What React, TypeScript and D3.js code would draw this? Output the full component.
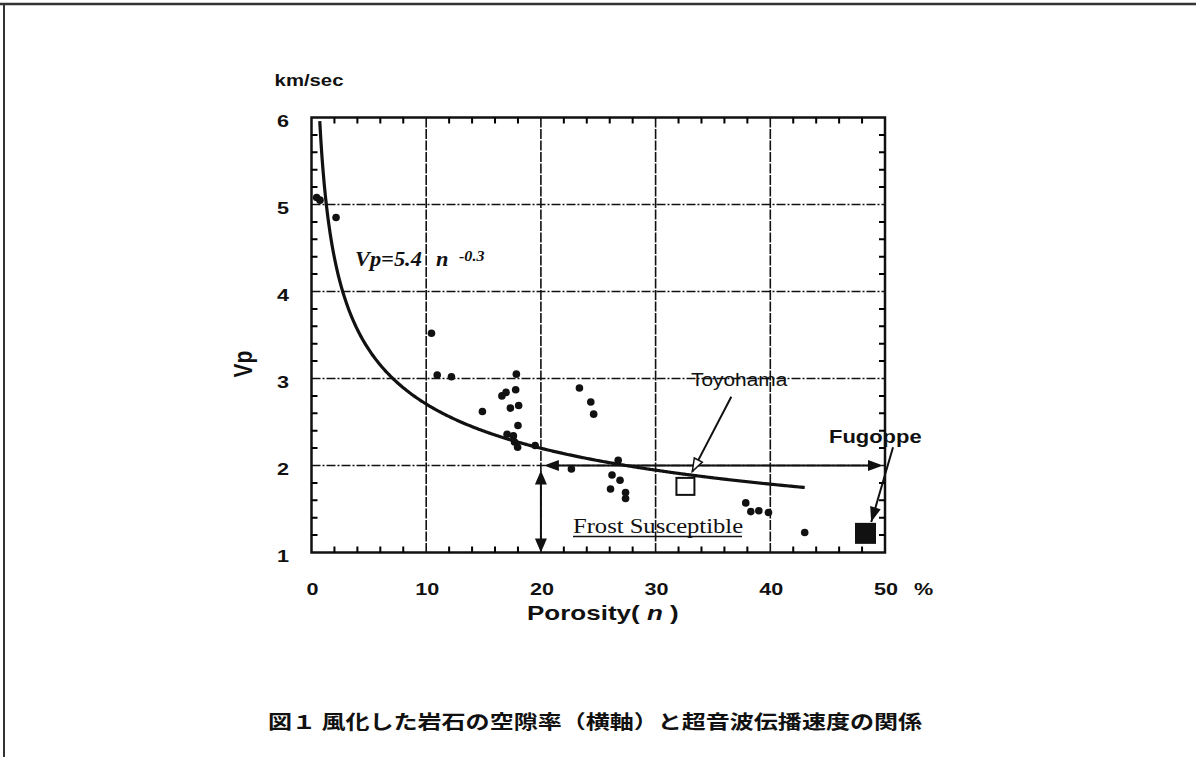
import React from "react";
import * as d3 from "d3";

const W = 1196;
const H = 757;

// Data: porosity (%) vs P-wave velocity (km/sec)
const porosity = [0.45, 0.74, 2.14, 10.46, 10.96, 12.2, 17.86, 16.6, 16.96, 17.8, 14.9, 17.34, 18.06, 18.0, 17.05, 17.6, 17.7, 17.97, 19.5, 23.36, 24.35, 24.6, 26.74, 22.66, 26.2, 26.9, 26.07, 27.38, 27.38, 37.86, 38.3, 39.0, 39.84, 43.0];
const vp = [5.08, 5.05, 4.85, 3.52, 3.04, 3.02, 3.05, 2.8, 2.84, 2.87, 2.62, 2.66, 2.69, 2.46, 2.36, 2.34, 2.27, 2.21, 2.23, 2.89, 2.73, 2.59, 2.06, 1.96, 1.89, 1.83, 1.73, 1.69, 1.62, 1.57, 1.47, 1.48, 1.46, 1.23];

// Fit printed on the chart: Vp = 5.4 n^-0.3
const fitA = 5.4;
const fitB = -0.3;
const fitRange = [0.72, 43];

const xTicks = [0, 10, 20, 30, 40, 50];
const yTicks = [1, 2, 3, 4, 5, 6];
const xGrid = [10, 20, 30, 40];
const yGrid = [2, 3, 4, 5];
const xMinorStep = 2;
const yMinorStep = 0.2;

// Named sites
const toyohama = { n: 32.6, vp: 1.76, label: "Toyohama" };
const fugoppe = { n: 48.3, vp: 1.22, label: "Fugoppe" };

const SANS = "'Liberation Sans', Arial, Helvetica, sans-serif";
const SERIF = "'Liberation Serif', 'Times New Roman', serif";
const CJK = "'Noto Sans CJK JP', 'Noto Sans CJK SC', sans-serif";
const SX = 1.27; // horizontal stretch of scanned text

function head(sx: number, sy: number, tx: number, ty: number, len: number, half: number) {
  const dx = tx - sx, dy = ty - sy;
  const L = Math.hypot(dx, dy);
  const ux = dx / L, uy = dy / L;
  const bx = tx - ux * len, by = ty - uy * len;
  return `${tx},${ty} ${bx - uy * half},${by + ux * half} ${bx + uy * half},${by - ux * half}`;
}

function T(props: any) {
  const { x, y, sx = SX, children, ...rest } = props;
  return (
    <text transform={`translate(${x},${y}) scale(${sx},1)`} {...rest}>
      {children}
    </text>
  );
}

export default function App() {
  const x = d3.scaleLinear().domain([0, 50]).range([311.5, 885]);
  const y = d3.scaleLinear().domain([1, 6]).range([552.5, 117.5]);

  const fitPts = d3.range(fitRange[0], fitRange[1] + 0.001, 0.1).concat([fitRange[1]]).map((n) => [n, fitA * Math.pow(n, fitB)] as [number, number]);
  const line = d3.line<[number, number]>().x((d) => x(d[0])).y((d) => y(d[1])).curve(d3.curveMonotoneX);

  const minorX: number[] = [];
  for (let i = 1; i < 25; i++) if (i % 5 !== 0) minorX.push(i * xMinorStep);
  const minorY: number[] = [];
  for (let i = 1; i < 25; i++) if (i % 5 !== 0) minorY.push(1 + i * yMinorStep);

  const x0 = x(0), x1 = x(50), y0 = y(1), y1 = y(6);
  const tick = 6;

  let tickPath = "";
  minorX.forEach((v) => {
    const px = x(v);
    tickPath += `M${px},${y0}V${y0 - tick}M${px},${y1}V${y1 + tick}`;
  });
  minorY.forEach((v) => {
    const py = y(v);
    tickPath += `M${x0},${py}H${x0 + tick}M${x1},${py}H${x1 - tick}`;
  });

  // arrows
  const hy = y(2);
  const hxL = x(20) + 3, hxR = x(50) - 2;
  const vx = x(20);
  const vyT = y(2) + 5, vyB = y(1);

  const tStart = [x(36.6), y(2.79)];
  const tEnd = [x(33.2), y(1.93)];
  const fStart = [x(50.7), y(2.21)];
  const fEnd = [x(48.8), y(1.35)];

  return (
    <div style={{ position: "absolute", left: 0, top: 0 }}>
      <svg width={W} height={H} style={{ display: "block", background: "#fff" }}>
        {/* page border */}
        <line x1={0} y1={4} x2={W} y2={4} stroke="#333" strokeWidth={2.5} />
        <line x1={4} y1={4} x2={4} y2={H} stroke="#333" strokeWidth={2} />

        {/* grid */}
        {xGrid.map((v) => (
          <line key={"gx" + v} x1={x(v)} x2={x(v)} y1={y1} y2={y0} stroke="#111" strokeWidth={1.6} strokeDasharray="10,1.5" />
        ))}
        {yGrid.map((v) => (
          <line key={"gy" + v} x1={x0} x2={x1} y1={y(v)} y2={y(v)} stroke="#111" strokeWidth={1.5} strokeDasharray="9,2,2,2" />
        ))}

        {/* frame */}
        <rect x={x0} y={y1} width={x1 - x0} height={y0 - y1} fill="none" stroke="#111" strokeWidth={2.5} />

        {/* minor ticks */}
        <path d={tickPath} fill="none" stroke="#000" strokeWidth={2} />

        {/* fit curve */}
        <path d={line(fitPts) || ""} fill="none" stroke="#111" strokeWidth={3.2} />

        {/* data points */}
        {porosity.map((n, i) => (
          <circle key={"p" + i} cx={x(n)} cy={y(vp[i])} r={3.8} fill="#111" />
        ))}

        {/* horizontal double arrow */}
        <line x1={hxL + 10} x2={hxR - 10} y1={hy} y2={hy} stroke="#111" strokeWidth={2} />
        <polygon points={head(hxR, hy, hxL, hy, 15, 5.5)} fill="#111" />
        <polygon points={head(hxL, hy, hxR, hy, 15, 5.5)} fill="#111" />

        {/* vertical double arrow */}
        <line x1={vx} x2={vx} y1={vyT + 10} y2={vyB - 10} stroke="#111" strokeWidth={2} />
        <polygon points={head(vx, vyB, vx, vyT, 14, 6)} fill="#111" />
        <polygon points={head(vx, vyT, vx, vyB, 14, 6)} fill="#111" />

        {/* Toyohama */}
        <rect x={x(toyohama.n) - 9} y={y(toyohama.vp) - 8.5} width={18} height={17} fill="#fff" stroke="#111" strokeWidth={2} />
        <line x1={tStart[0]} y1={tStart[1]} x2={tEnd[0]} y2={tEnd[1]} stroke="#111" strokeWidth={2} />
        <polygon points={head(tStart[0], tStart[1], tEnd[0], tEnd[1], 13, 4.5)} fill="#fff" stroke="#111" strokeWidth={1.5} />
        <T x={691} y={386} sx={1.16} fontFamily={SANS} fontSize={18} fill="#111">{toyohama.label}</T>

        {/* Fugoppe */}
        <rect x={x(fugoppe.n) - 10.5} y={y(fugoppe.vp) - 10.5} width={21} height={21} fill="#111" />
        <line x1={fStart[0]} y1={fStart[1]} x2={fEnd[0]} y2={fEnd[1]} stroke="#111" strokeWidth={2} />
        <polygon points={head(fStart[0], fStart[1], fEnd[0], fEnd[1], 15, 5.5)} fill="#111" />
        <T x={829} y={443} sx={1.22} fontFamily={SANS} fontWeight="bold" fontSize={18} fill="#111">{fugoppe.label}</T>

        {/* Frost Susceptible */}
        <T x={573} y={533} sx={1.23} fontFamily={SERIF} fontSize={20} fill="#111">Frost Susceptible</T>
        <line x1={573} x2={742} y1={536.5} y2={536.5} stroke="#111" strokeWidth={1.4} />

        {/* equation */}
        <T x={355} y={266} sx={1.12} fontFamily={SERIF} fontStyle="italic" fontWeight="bold" fontSize={20} fill="#111">Vp=5.4</T>
        <T x={436} y={266} sx={1.12} fontFamily={SERIF} fontStyle="italic" fontWeight="bold" fontSize={20} fill="#111">n</T>
        <T x={459} y={261} sx={1.15} fontFamily={SERIF} fontStyle="italic" fontWeight="bold" fontSize={14} fill="#111">-0.3</T>

        {/* y tick labels */}
        {yTicks.map((v) => (
          <T key={"yl" + v} x={289} y={y(v) + 9} fontFamily={SANS} fontWeight="bold" fontSize={17} textAnchor="end" fill="#111">{v}</T>
        ))}
        <T x={309} y={86} fontFamily={SANS} fontWeight="bold" fontSize={16} textAnchor="middle" fill="#111">km/sec</T>
        <text transform={`translate(252,364) rotate(-90) scale(1,${SX})`} fontFamily={SANS} fontWeight="bold" fontSize={21} textAnchor="middle" fill="#111">Vp</text>

        {/* x tick labels */}
        {xTicks.map((v) => (
          <T key={"xl" + v} x={x(v) + 1} y={595} fontFamily={SANS} fontWeight="bold" fontSize={17} textAnchor="middle" fill="#111">{v}</T>
        ))}
        <T x={914} y={595} fontFamily={SANS} fontWeight="bold" fontSize={17} fill="#111">%</T>
        <T x={527} y={620} sx={1.3} fontFamily={SANS} fontWeight="bold" fontSize={20} fill="#111">
          Porosity(<tspan fontStyle="italic"> n </tspan> )
        </T>

        {/* caption */}
        <text x={268} y={729} fontFamily={CJK} fontWeight="bold" fontSize={19} fill="#111" textLength={654} lengthAdjust="spacingAndGlyphs">図１ 風化した岩石の空隙率（横軸）と超音波伝播速度の関係</text>
      </svg>
    </div>
  );
}
